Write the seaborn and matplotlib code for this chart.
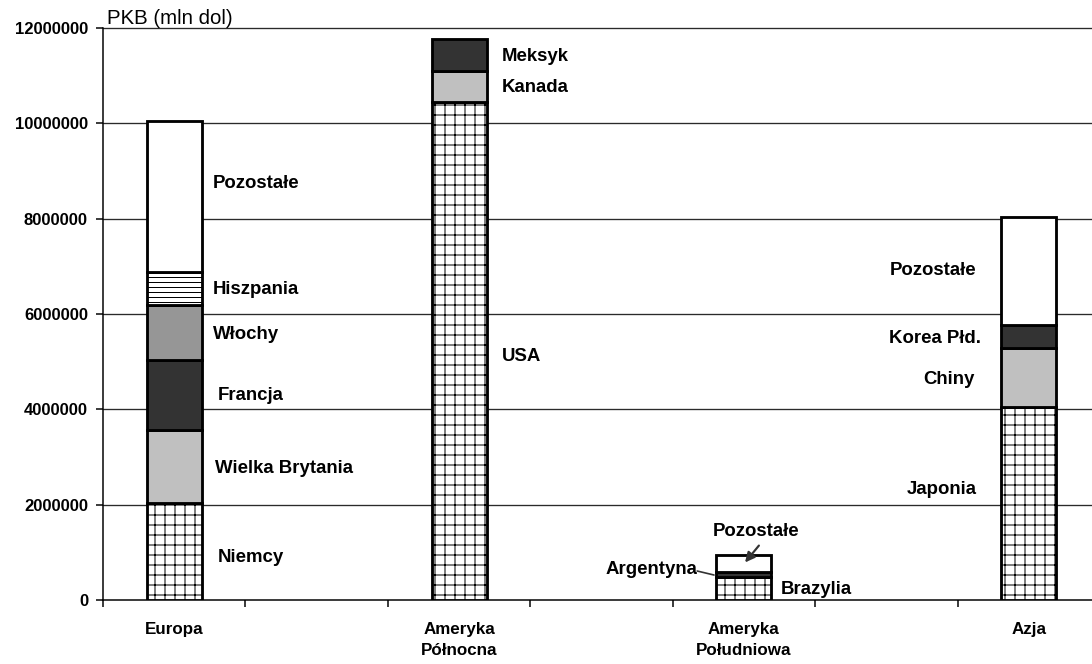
import numpy as np
import pandas as pd
import matplotlib
matplotlib.use("Agg")
import matplotlib.pyplot as plt
import seaborn as sns

# ---------------- data ----------------
regions = ["Europa", "Ameryka\nPółnocna", "Ameryka\nPołudniowa", "Azja"]
europa_countries = ["Niemcy", "Wielka Brytania", "Francja", "Włochy", "Hiszpania", "Pozostałe"]
europa_values = [2030000, 1540000, 1460000, 1160000, 690000, 3170000]
ampn_countries = ["USA", "Kanada", "Meksyk"]
ampn_values = [10450000, 650000, 670000]
ampd_countries = ["Brazylia", "Argentyna", "Pozostałe"]
ampd_values = [480000, 100000, 360000]
azja_countries = ["Japonia", "Chiny", "Korea Płd.", "Pozostałe"]
azja_values = [4050000, 1240000, 480000, 2260000]
yticks = [0, 2000000, 4000000, 6000000, 8000000, 10000000, 12000000]
y_title = "PKB (mln dol)"

# ---------------- styling ----------------
sns.set_theme(style="white")
plt.rcParams["font.family"] = ["Liberation Sans", "DejaVu Sans"]
plt.rcParams["hatch.linewidth"] = 0.6
plt.rcParams["text.color"] = "black"
plt.rcParams["xtick.labelcolor"] = "black"
plt.rcParams["ytick.labelcolor"] = "black"

styles = {
    "Niemcy": dict(color="white", hatch="++"),
    "USA": dict(color="white", hatch="++"),
    "Japonia": dict(color="white", hatch="++"),
    "Brazylia": dict(color="white", hatch="++"),
    "Wielka Brytania": dict(color="#c0c0c0", hatch=None),
    "Kanada": dict(color="#c0c0c0", hatch=None),
    "Chiny": dict(color="#c0c0c0", hatch=None),
    "Francja": dict(color="#333333", hatch=None),
    "Meksyk": dict(color="#333333", hatch=None),
    "Korea Płd.": dict(color="#333333", hatch=None),
    "Argentyna": dict(color="#333333", hatch=None),
    "Włochy": dict(color="#969696", hatch=None),
    "Hiszpania": dict(color="white", hatch="----"),
    "Pozostałe": dict(color="white", hatch=None),
}

# 7 category slots; bars in every other slot
slots = [regions[0], "s1", regions[1], "s3", regions[2], "s5", regions[3]]

rows = []
for reg, cs, vs in zip(regions,
                       [europa_countries, ampn_countries, ampd_countries, azja_countries],
                       [europa_values, ampn_values, ampd_values, azja_values]):
    bottoms = np.concatenate([[0], np.cumsum(vs)[:-1]])
    for c, v, b in zip(cs, vs, bottoms):
        rows.append(dict(region=reg, country=c, value=v, bottom=b))
df = pd.DataFrame(rows)

fig = plt.figure(figsize=(1092 / 120, 664 / 120), dpi=120)
ax = fig.add_axes([103 / 1092, 64 / 664, 997 / 1092, 572 / 664])

for yv in yticks[1:]:
    ax.axhline(yv, color="#2a2a2a", lw=0.8, zorder=0, clip_on=False)

for _, r in df.iterrows():
    st = styles[r["country"]]
    sns.barplot(data=df[(df.region == r.region) & (df.country == r.country)],
                x="region", y="value", order=slots, bottom=r["bottom"],
                color=st["color"], hatch=st["hatch"], saturation=1,
                edgecolor="black", linewidth=1.7, width=0.386,
                errorbar=None, ax=ax, zorder=3)

ax.set_xlim(-0.5, 6.5)
ax.set_ylim(0, 12000000)
ax.set_xlabel("")
ax.set_ylabel("")
for s in ["top", "right"]:
    ax.spines[s].set_visible(False)
for s in ["left", "bottom"]:
    ax.spines[s].set_color("black")
    ax.spines[s].set_linewidth(0.9)

ax.set_yticks(yticks)
ax.set_yticklabels([str(v) for v in yticks], fontweight="bold", fontsize=10)
ax.tick_params(axis="y", direction="out", length=4, width=0.9, color="black", pad=5, left=True)

ax.set_xticks([0, 2, 4, 6])
ax.set_xticklabels(regions, fontweight="bold", fontsize=10.2, linespacing=1.55)
ax.set_xticks(np.arange(-0.5, 7.0, 1.0), minor=True)
ax.tick_params(axis="x", which="major", length=0, pad=13)
ax.tick_params(axis="x", which="minor", direction="out", length=4, width=0.9, color="black", bottom=True)

fig.text(107 / 1092, 1 - 19 / 664, y_title, fontsize=12.2, va="center", ha="left")

lab_kw = dict(fontsize=11.2, fontweight="bold", va="center")
# Europa labels
for name, xx, yy in [("Pozostałe", 0.272, 8.73e6), ("Hiszpania", 0.272, 6.52e6),
                     ("Włochy", 0.272, 5.58e6), ("Francja", 0.307, 4.28e6),
                     ("Wielka Brytania", 0.286, 2.75e6), ("Niemcy", 0.307, 0.90e6)]:
    ax.text(xx, yy, name, ha="left", **lab_kw)
# Ameryka Północna
for name, xx, yy in [("Meksyk", 2.301, 11.41e6), ("Kanada", 2.301, 10.76e6), ("USA", 2.301, 5.10e6)]:
    ax.text(xx, yy, name, ha="left", **lab_kw)
# Ameryka Południowa
ax.text(3.783, 1.43e6, "Pozostałe", ha="left", **lab_kw)
ax.text(3.670, 0.65e6, "Argentyna", ha="right", **lab_kw)
ax.text(4.260, 0.21e6, "Brazylia", ha="left", **lab_kw)
ax.annotate("", xy=(3.993, 0.734e6), xytext=(4.120, 1.196e6),
            arrowprops=dict(arrowstyle="-|>", color="#333333", lw=1.3, mutation_scale=12),
            zorder=5)
ax.plot([3.672, 3.790], [0.608e6, 0.524e6], color="#333333", lw=1.0, zorder=5)
# Azja
for name, xx, yy in [("Pozostałe", 5.635, 6.92e6), ("Korea Płd.", 5.663, 5.48e6),
                     ("Chiny", 5.621, 4.62e6), ("Japonia", 5.635, 2.31e6)]:
    ax.text(xx, yy, name, ha="right", **lab_kw)

fig.savefig("out.png", dpi=120)
